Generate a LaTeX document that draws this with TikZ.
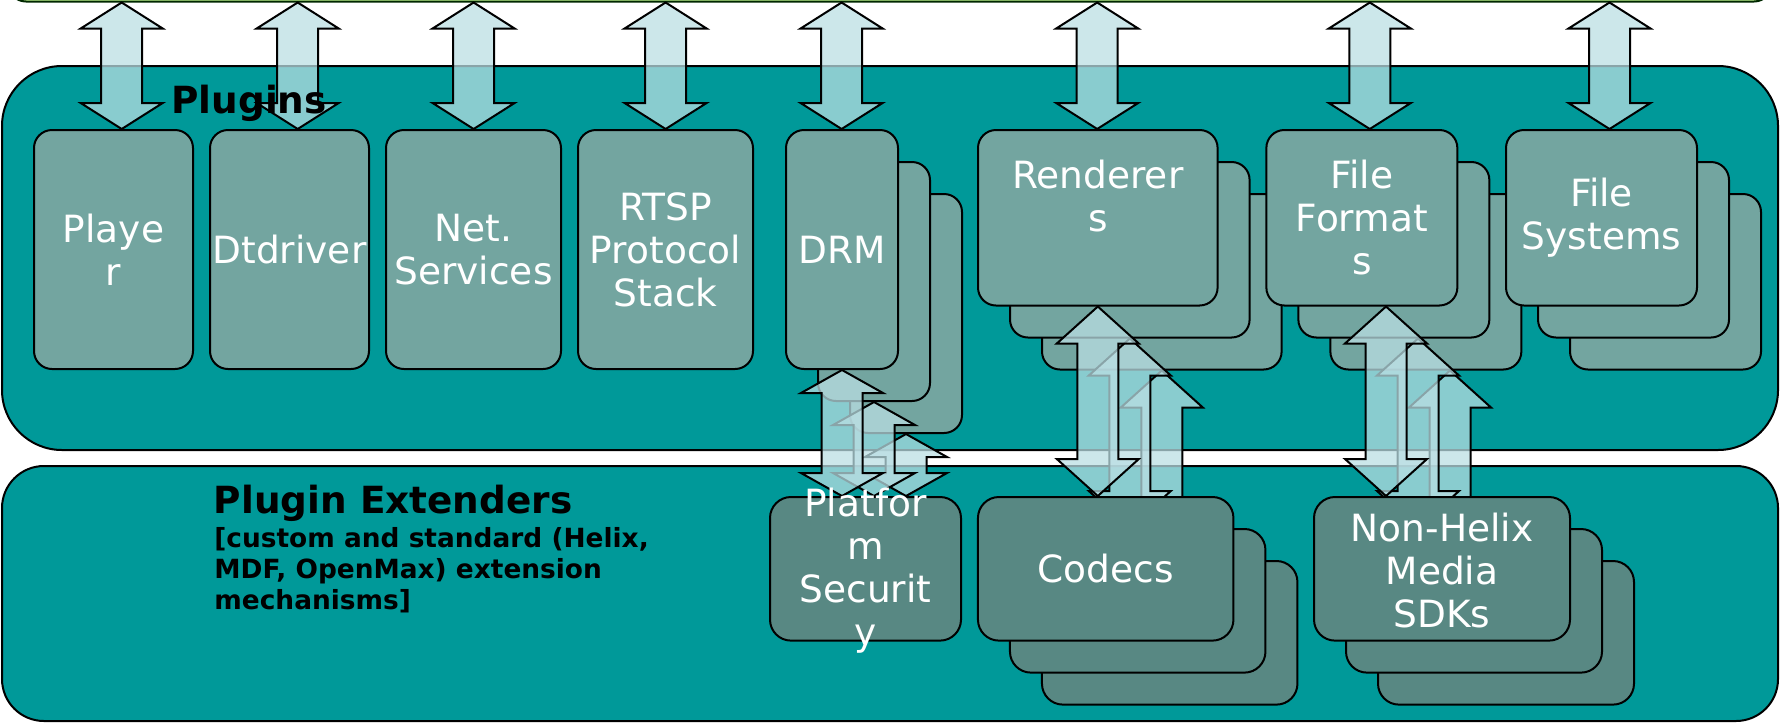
\documentclass[tikz,border=0pt]{standalone}
\usepackage{fontspec}
\setmainfont{DejaVu Sans}
\usetikzlibrary{calc}

\definecolor{panelteal}{RGB}{0,153,153}
\definecolor{plugfill}{RGB}{115,165,160}
\definecolor{extfill}{RGB}{88,136,131}
\definecolor{arrowfill}{RGB}{186,222,227}
\definecolor{stripfill}{RGB}{204,255,153}
\definecolor{stripline}{RGB}{0,40,0}

\newcommand\plugboxfont{\fontsize{18.75pt}{21.5pt}\selectfont}
\newcommand\headingfont{\fontsize{18.7pt}{22pt}\selectfont\bfseries}
\newcommand\notefont{\fontsize{13.2pt}{15.5pt}\selectfont\bfseries}

\pgfdeclarelayer{front}
\pgfsetlayers{main,front}

% double-headed block arrow: #1 x (px), #2 upper node, #3 lower node, #4 head length (px)
\newcommand\blockarrow[4]{%
  \draw[blockarr]
    (#1,0 |- #2.south) -- ++(41,#4) -- ++(-20.5,0)
    -- ($(#1,0 |- #3.north)+(20.5,-#4)$) -- ++(20.5,0)
    -- (#1,0 |- #3.north) -- ++(-41,-#4) -- ++(20.5,0)
    -- ($(#1,0 |- #2.south)+(-20.5,#4)$) -- ++(-20.5,0) -- cycle;}

\begin{document}
\begin{tikzpicture}[x=0.5pt,y=-0.5pt,
  topstrip/.style={draw=stripline, line width=1pt, fill=stripfill, rounded corners=9pt, inner sep=0pt},
  panel/.style={draw=black, line width=1pt, fill=panelteal, inner sep=0pt},
  plug/.style={draw=black, line width=1pt, fill=plugfill, rounded corners=9pt,
    text=white, font=\plugboxfont, align=center, inner sep=0pt},
  ext/.style={draw=black, line width=1pt, fill=extfill, rounded corners=10.5pt,
    text=white, font=\plugboxfont, align=center, inner sep=0pt},
  boxtext/.style={text=white, font=\plugboxfont, align=center, inner sep=0pt},
  blockarr/.style={draw=black, line width=1pt, fill=arrowfill, fill opacity=0.74, line join=miter},
  heading/.style={anchor=base west, inner sep=0pt, font=\headingfont, text=black},
  note/.style={anchor=base west, inner sep=0pt, font=\notefont, text=black}]

\useasboundingbox (0,0) rectangle (1781,724);
\clip (0,0) rectangle (1781,724);

% framework bar above, and the two panels
\node[topstrip, minimum width=882pt, minimum height=30.75pt] (top) at (890,-29.25) {};
\node[panel, rounded corners=30pt, minimum width=888pt, minimum height=192pt] (plugins) at (890,258) {};
\node[panel, rounded corners=21pt, minimum width=888pt, minimum height=127.5pt] (extenders) at (890,593.5) {};

% plugin row
\node[plug, minimum width=79.5pt, minimum height=119.5pt] (player) at (113.5,249.5) {Playe\\r};
\node[plug, minimum width=79.5pt, minimum height=119.5pt] (dtdriver) at (289.5,249.5) {Dtdriver};
\node[plug, minimum width=87.5pt, minimum height=119.5pt] (net) at (473.5,249.5) {Net.\\Services};
\node[plug, minimum width=87.5pt, minimum height=119.5pt] (rtsp) at (665.5,249.5) {RTSP\\Protocol\\Stack};

\node[plug, minimum width=56pt, minimum height=119.5pt] (drm3) at (906,313.5) {};
\node[plug, minimum width=56pt, minimum height=119.5pt] (drm2) at (874,281.5) {};
\node[plug, minimum width=56pt, minimum height=119.5pt] (drm) at (842,249.5) {DRM};

\node[plug, minimum width=119.8pt, minimum height=87.75pt] (render3) at (1161.8,281.75) {};
\node[plug, minimum width=119.8pt, minimum height=87.75pt] (render2) at (1129.8,249.75) {};
\node[plug, minimum width=119.8pt, minimum height=87.75pt] (render) at (1097.8,217.75) {Renderer\\s\\\phantom{s}};

\node[plug, minimum width=95.5pt, minimum height=87.75pt] (ff3) at (1425.85,281.75) {};
\node[plug, minimum width=95.5pt, minimum height=87.75pt] (ff2) at (1393.85,249.75) {};
\node[plug, minimum width=95.5pt, minimum height=87.75pt] (ff) at (1361.85,217.75) {File\\Format\\s};

\node[plug, minimum width=95.5pt, minimum height=87.75pt] (fs3) at (1665.5,281.75) {};
\node[plug, minimum width=95.5pt, minimum height=87.75pt] (fs2) at (1633.5,249.75) {};
\node[plug, minimum width=95.5pt, minimum height=87.75pt] (fs) at (1601.5,217.75) {File\\Systems};

% extender row, kept above the connecting arrows
\begin{pgfonlayer}{front}
\node[ext, minimum width=95.5pt, minimum height=71.8pt] (psec) at (865.5,568.8) {};
\node[boxtext] (psectext) at (865.5,571) {Platfor\\m\\Securit\\y};

\node[ext, minimum width=127.75pt, minimum height=71.8pt] (codec3) at (1169.7,632.8) {};
\node[ext, minimum width=127.75pt, minimum height=71.8pt] (codec2) at (1137.7,600.8) {};
\node[ext, minimum width=127.75pt, minimum height=71.8pt] (codec) at (1105.7,568.8) {Codecs};

\node[ext, minimum width=128pt, minimum height=71.8pt] (nh3) at (1506,632.8) {};
\node[ext, minimum width=128pt, minimum height=71.8pt] (nh2) at (1474,600.8) {};
\node[ext, minimum width=128pt, minimum height=71.8pt] (nh) at (1442,568.8) {};
\node[boxtext] (nhtext) at (1442,571) {Non-Helix\\Media\\SDKs};
\end{pgfonlayer}

% links from the framework to each plugin
\blockarrow{121.7}{top}{player}{26}
\blockarrow{297.7}{top}{dtdriver}{26}
\blockarrow{473.6}{top}{net}{26}
\blockarrow{665.6}{top}{rtsp}{26}
\blockarrow{841.6}{top}{drm}{26}
\blockarrow{1097.2}{top}{render}{26}
\blockarrow{1369.8}{top}{ff}{26}
\blockarrow{1609.5}{top}{fs}{26}

% links from plugins to their extenders (back copies first)
\blockarrow{906}{drm3}{psec}{23}
\blockarrow{874}{drm2}{psec}{23}
\blockarrow{842}{drm}{psec}{23}

\blockarrow{1161.8}{render3}{codec3}{37}
\blockarrow{1129.8}{render2}{codec2}{37}
\blockarrow{1097.8}{render}{codec}{37}

\blockarrow{1450}{ff3}{nh3}{37}
\blockarrow{1418}{ff2}{nh2}{37}
\blockarrow{1386}{ff}{nh}{37}

% panel titles
\node[heading] (plugtitle) at (171,113) {Plugins};
\node[heading] (exttitle) at (213.5,513) {Plugin Extenders};
\node[note] (extnote1) at (214,547) {[custom and standard (Helix,};
\node[note] (extnote2) at (214,578) {MDF, OpenMax) extension};
\node[note] (extnote3) at (214,609) {mechanisms]};

\end{tikzpicture}
\end{document}
